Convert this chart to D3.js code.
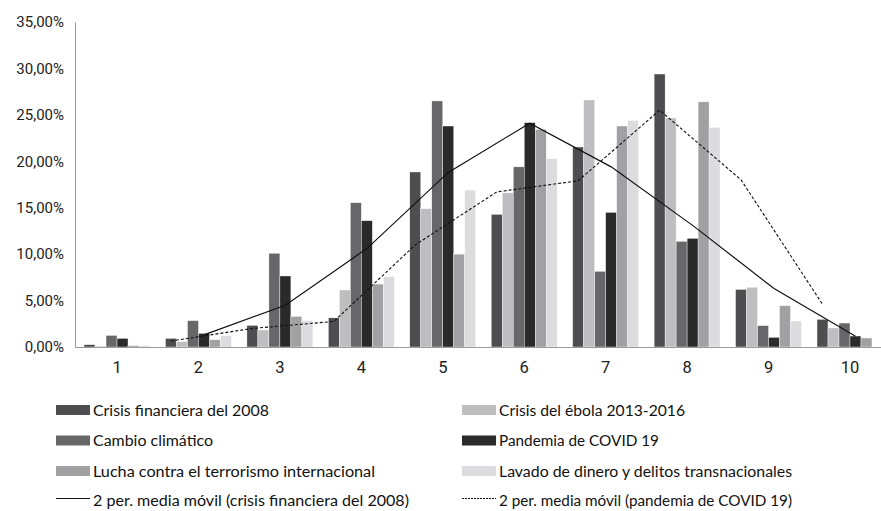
<!DOCTYPE html>
<html>
<head>
<meta charset="utf-8">
<script src="https://cdn.jsdelivr.net/npm/d3@7"></script>
<style>
  html, body { margin: 0; padding: 0; background: #fff; }
  svg { display: block; }
</style>
</head>
<body>
<svg id="chart" width="881" height="511"></svg>
<script>
// ---- data ----
const categories = ["1", "2", "3", "4", "5", "6", "7", "8", "9", "10"];
const seriesNames = [
  "Crisis financiera del 2008",
  "Crisis del ébola 2013-2016",
  "Cambio climático",
  "Pandemia de COVID 19",
  "Lucha contra el terrorismo internacional",
  "Lavado de dinero y delitos transnacionales"
];
const crisisFinanciera = [0.25, 0.93, 2.33, 3.14, 18.85, 14.29, 21.54, 29.40, 6.20, 2.98];
const crisisEbola      = [0.10, 0.57, 1.83, 6.14, 14.90, 16.60, 26.60, 24.66, 6.43, 2.05];
const cambioClimatico  = [1.25, 2.84, 10.10, 15.54, 26.50, 19.40, 8.15, 11.38, 2.30, 2.58];
const pandemiaCovid    = [0.93, 1.47, 7.65, 13.60, 23.80, 24.16, 14.50, 11.70, 1.04, 1.18];
const luchaTerrorismo  = [0.15, 0.79, 3.30, 6.78, 10.00, 23.44, 23.80, 26.40, 4.45, 0.97];
const lavadoDinero     = [0.15, 1.22, 2.84, 7.57, 16.90, 20.28, 24.40, 23.66, 2.80, 0.00];
// moving-average lines (null = no point)
const mediaMovilSolida = [null, 1.30, 4.50, 10.60, 18.80, 24.10, 19.40, 13.10, 6.30, 1.15];
const mediaMovilPunteada = [null, 0.65, 2.00, 2.75, 11.00, 16.70, 17.90, 25.50, 18.00, 4.60];
const lineLegend = [
  "2 per. media móvil (crisis financiera del 2008)",
  "2 per. media móvil (pandemia de COVID 19)"
];
const yTicks = [0, 5, 10, 15, 20, 25, 30, 35];

const seriesValues = [crisisFinanciera, crisisEbola, cambioClimatico, pandemiaCovid, luchaTerrorismo, lavadoDinero];
const colors = ["#4e4e50", "#bebec0", "#676769", "#2a2a2a", "#a1a1a4", "#dcdcde"];

// ---- layout ----
const svg = d3.select("#chart");
const x0 = d3.scaleBand().domain(categories).range([76.3, 890.7]).paddingInner(0.19).paddingOuter(0.095);
const x1 = d3.scaleBand().domain(d3.range(seriesNames.length)).range([0, x0.bandwidth()]);
const y = d3.scaleLinear().domain([0, 35]).range([347, 22]);
const fmt = v => d3.format(".2f")(v).replace(".", ",") + "%";

// bars
const g = svg.append("g");
seriesValues.forEach((vals, si) => {
  g.selectAll(null).data(vals.map((v, i) => ({ v, c: categories[i] })))
    .enter().append("rect")
    .attr("x", d => x0(d.c) + x1(si))
    .attr("y", d => y(d.v))
    .attr("width", x1.bandwidth())
    .attr("height", d => y(0) - y(d.v))
    .attr("fill", colors[si])
    .attr("stroke", "#ffffff")
    .attr("stroke-width", 0.4);
});

// y axis
const yAxis = d3.axisLeft(y).tickValues(yTicks).tickFormat(fmt).tickSize(0).tickPadding(11);
const ya = svg.append("g").attr("transform", "translate(75,0)").call(yAxis);
ya.select(".domain").attr("stroke", "#9a9a9a").attr("stroke-width", 1);
ya.selectAll("text").attr("font-family", "Roboto, 'Liberation Sans', sans-serif")
  .attr("font-size", 15).attr("fill", "#222");

// x axis
const xAxis = d3.axisBottom(x0).tickSize(0).tickPadding(14);
const xa = svg.append("g").attr("transform", "translate(0,347)").call(xAxis);
xa.select(".domain").attr("stroke", "#9a9a9a").attr("stroke-width", 1).attr("d", "M75,0.5H891");
xa.selectAll("text").attr("font-family", "Roboto, 'Liberation Sans', sans-serif")
  .attr("font-size", 16.5).attr("fill", "#222");

// moving-average lines
const lineGen = si => d3.line()
  .defined(d => d.v !== null)
  .x(d => x0(d.c) + x1(si) + x1.bandwidth() / 2)
  .y(d => y(d.v));
svg.append("path")
  .datum(mediaMovilSolida.map((v, i) => ({ v, c: categories[i] })))
  .attr("d", lineGen(3))
  .attr("fill", "none").attr("stroke", "#111").attr("stroke-width", 1.2);
svg.append("path")
  .datum(mediaMovilPunteada.map((v, i) => ({ v, c: categories[i] })))
  .attr("d", lineGen(0))
  .attr("fill", "none").attr("stroke", "#111").attr("stroke-width", 1.1)
  .attr("stroke-dasharray", "3,2");

// legend
const legendFont = "Lato, 'Noto Sans', sans-serif";
const colX = [56, 462];
const rowY = [410, 440.5, 471, 500];
const textLens = [176, 186, 120, 160, 282, 293];
const lg = svg.append("g");
seriesNames.forEach((name, i) => {
  const cx = colX[i % 2], cy = rowY[Math.floor(i / 2)];
  lg.append("rect").attr("x", cx).attr("y", cy - 5).attr("width", 34).attr("height", 10).attr("fill", colors[i]);
  lg.append("text").attr("x", cx + 37).attr("y", cy).attr("dy", "0.36em")
    .attr("font-family", legendFont).attr("font-size", 15.5).attr("fill", "#111")
    .attr("textLength", textLens[i]).attr("lengthAdjust", "spacingAndGlyphs")
    .text(name);
});
const lineLens = [316, 293];
lineLegend.forEach((name, i) => {
  const cx = colX[i], cy = rowY[3];
  lg.append("line").attr("x1", cx).attr("x2", cx + 34).attr("y1", cy - 1.5).attr("y2", cy - 1.5)
    .attr("stroke", "#111").attr("stroke-width", i === 0 ? 1.2 : 1)
    .attr("stroke-dasharray", i === 0 ? null : "2,1");
  lg.append("text").attr("x", cx + 37).attr("y", cy).attr("dy", "0.36em")
    .attr("font-family", legendFont).attr("font-size", 15.5).attr("fill", "#111")
    .attr("textLength", lineLens[i]).attr("lengthAdjust", "spacingAndGlyphs")
    .text(name);
});
</script>
</body>
</html>
